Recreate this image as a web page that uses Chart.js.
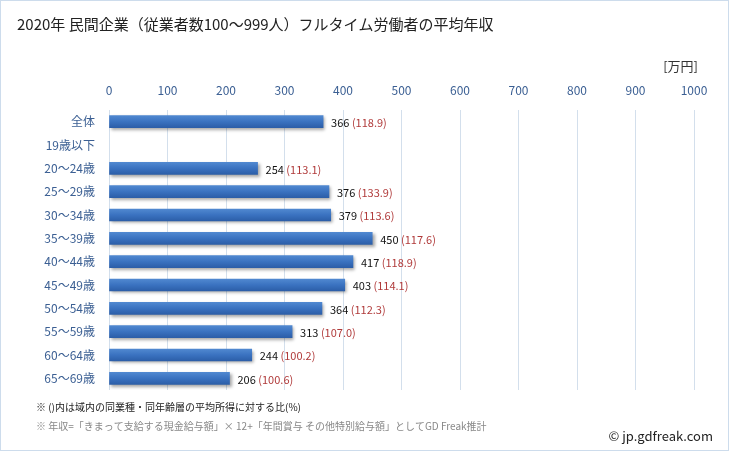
<!DOCTYPE html>
<html><head><meta charset="utf-8">
<script src="https://cdn.jsdelivr.net/npm/chart.js@4.4.1/dist/chart.umd.min.js"></script>
<style>html,body{margin:0;padding:0;background:#fff}#wrap{width:729px;height:451px;position:relative}</style>
</head><body><div id="wrap"><canvas id="c" width="729" height="451"></canvas></div>
<script>
const categories = ['全体','19歳以下','20〜24歳','25〜29歳','30〜34歳','35〜39歳','40〜44歳','45〜49歳','50〜54歳','55〜59歳','60〜64歳','65〜69歳'];
const incomes = [366, null, 254, 376, 379, 450, 417, 403, 364, 313, 244, 206];
const ratios = [118.9, null, 113.1, 133.9, 113.6, 117.6, 118.9, 114.1, 112.3, 107.0, 100.2, 100.6];
const xTicks = [0,100,200,300,400,500,600,700,800,900,1000];
const titleText = '2020年 民間企業（従業者数100〜999人）フルタイム労働者の平均年収';
const unitText = '[万円]';
const note1 = '※ ()内は域内の同業種・同年齢層の平均所得に対する比(%)';
const note2 = '※ 年収=「きまって支給する現金給与額」× 12+「年間賞与 その他特別給与額」としてGD Freak推計';
const credit = '© jp.gdfreak.com';

const JP = '"Noto Sans CJK JP", "Noto Sans", sans-serif';

const decor = {
  id: 'decor',
  beforeDraw(chart) {
    const ctx = chart.ctx;
    ctx.save();
    ctx.fillStyle = '#fff';
    ctx.fillRect(0, 0, chart.width, chart.height);
    ctx.restore();
  },
  beforeDatasetsDraw(chart) {
    const ctx = chart.ctx;
    ctx.save();
    ctx.shadowColor = 'rgba(0,0,0,0.35)';
    ctx.shadowOffsetX = 2;
    ctx.shadowOffsetY = 2;
    ctx.shadowBlur = 3;
  },
  afterDatasetsDraw(chart) {
    const ctx = chart.ctx;
    ctx.restore();
    const meta = chart.getDatasetMeta(0);
    ctx.save();
    ctx.font = '11px ' + JP;
    ctx.textBaseline = 'middle';
    ctx.textAlign = 'left';
    meta.data.forEach((bar, i) => {
      if (incomes[i] == null) return;
      const x = bar.x + 8;
      const y = bar.y + 1;
      const v = String(incomes[i]);
      ctx.fillStyle = '#111';
      ctx.fillText(v, x, y);
      const w = ctx.measureText(v + ' ').width;
      ctx.fillStyle = '#b03a3a';
      ctx.fillText('(' + ratios[i].toFixed(1) + ')', x + w, y);
    });
    ctx.restore();
  },
  afterDraw(chart) {
    const ctx = chart.ctx;
    ctx.save();
    ctx.strokeStyle = '#cddcec';
    ctx.lineWidth = 1;
    ctx.strokeRect(0.5, 0.5, chart.width - 1, chart.height - 1);
    ctx.fillStyle = '#222';
    ctx.font = '15px ' + JP;
    ctx.textBaseline = 'middle';
    ctx.textAlign = 'left';
    ctx.fillText(titleText, 17, 24);
    ctx.font = '13px ' + JP;
    ctx.fillStyle = '#333';
    ctx.textAlign = 'right';
    ctx.fillText(unitText, 698, 66);
    ctx.textAlign = 'left';
    ctx.font = '10px ' + JP;
    ctx.fillStyle = '#222';
    ctx.fillText(note1, 36, 407);
    ctx.fillStyle = '#888';
    ctx.fillText(note2, 36, 426);
    ctx.font = '13px ' + JP;
    ctx.fillStyle = '#222';
    ctx.textAlign = 'right';
    ctx.fillText(credit, 713, 436);
    ctx.restore();
  }
};

new Chart(document.getElementById('c'), {
  type: 'bar',
  data: {
    labels: categories,
    datasets: [{
      data: incomes,
      backgroundColor: (c) => {
        const ch = c.chart;
        const ys = ch.scales && ch.scales.y;
        if (!ys || c.dataIndex == null) return '#3a70bd';
        const yc = ys.getPixelForValue(c.dataIndex);
        if (!isFinite(yc)) return '#3a70bd';
        const g = ch.ctx.createLinearGradient(0, yc - 6, 0, yc + 6);
        g.addColorStop(0, '#5088d0');
        g.addColorStop(0.5, '#3a72c0');
        g.addColorStop(1, '#2c5ea8');
        return g;
      },
      borderWidth: 0,
      barThickness: 12
    }]
  },
  options: {
    indexAxis: 'y',
    responsive: false,
    animation: false,
    layout: { padding: { left: 0, top: 0, right: 35, bottom: 61 } },
    plugins: { legend: { display: false }, tooltip: { enabled: false }, title: { display: false } },
    scales: {
      x: {
        position: 'top',
        min: 0, max: 1000,
        afterBuildTicks(scale) { scale.ticks = xTicks.map(v => ({ value: v })); },
        afterFit(scale) { scale.height = 110; },
        grid: { color: '#d3dfec', drawTicks: false, lineWidth: 1 },
        border: { display: false },
        ticks: { color: '#3b5f93', font: { size: 12, family: JP }, padding: 12, callback: (v) => String(v) }
      },
      y: {
        afterFit(scale) { scale.width = 109; },
        grid: { display: false, drawTicks: false },
        border: { display: false },
        ticks: { color: '#3b5f93', font: { size: 12, family: JP }, padding: 14 }
      }
    }
  },
  plugins: [decor]
});
</script></body></html>
